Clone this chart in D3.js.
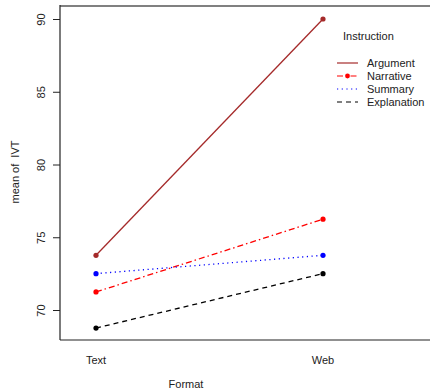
<!DOCTYPE html>
<html>
<head>
<meta charset="utf-8">
<script src="https://cdn.jsdelivr.net/npm/d3@7"></script>
<style>
  body { margin: 0; background: #fff; }
  text { font-family: "Liberation Sans", Arial, sans-serif; fill: #222; }
</style>
</head>
<body>
<svg id="chart" width="430" height="391"></svg>
<script>
// data
var formats = ["Text", "Web"];
var instructions = ["Argument", "Narrative", "Summary", "Explanation"];
var argument_vals = [73.76, 90.0];
var narrative_vals = [71.24, 76.24];
var summary_vals = [72.5, 73.76];
var explanation_vals = [68.76, 72.5];
var y_ticks = [70, 75, 80, 85, 90];

var series = [
	{ name: "Argument", values: argument_vals, color: "#a52a2a", dash: null },
	{ name: "Narrative", values: narrative_vals, color: "#ff0000", dash: "6,3,1.5,3" },
	{ name: "Summary", values: summary_vals, color: "#0000ff", dash: "1.2,3.5" },
	{ name: "Explanation", values: explanation_vals, color: "#000000", dash: "5,4" }
];

var svg = d3.select("#chart");

var x = d3.scalePoint().domain(formats).range([96, 323]);
var y = d3.scaleLinear().domain([70, 90]).range([310, 19]);

var left = 60, bottom = 340, top_y = 6, right = 430;

// frame
svg.append("line").attr("x1", left).attr("x2", right).attr("y1", top_y).attr("y2", top_y)
	.attr("stroke", "#808080").attr("stroke-width", 2);
svg.append("line").attr("x1", left).attr("x2", left).attr("y1", top_y - 1).attr("y2", bottom)
	.attr("stroke", "#222").attr("stroke-width", 1.2);
svg.append("line").attr("x1", left).attr("x2", right).attr("y1", bottom).attr("y2", bottom)
	.attr("stroke", "#222").attr("stroke-width", 1.2);

// y axis
var yaxis = svg.append("g").attr("transform", "translate(" + left + ",0)")
	.call(d3.axisLeft(y).tickValues(y_ticks).tickSize(7));
yaxis.select(".domain").remove();
yaxis.selectAll("line").attr("stroke", "#222");
yaxis.selectAll("text")
	.attr("font-size", 11)
	.attr("fill", "#222")
	.attr("text-anchor", "middle")
	.attr("x", 0)
	.attr("y", 0)
	.attr("dy", 0)
	.attr("transform", "translate(-15,0) rotate(-90)");

// x labels (no ticks)
svg.append("g").selectAll("text")
	.data(formats)
	.enter().append("text")
	.attr("x", function(d) { return x(d); })
	.attr("y", 364)
	.attr("text-anchor", "middle")
	.attr("font-size", 11)
	.text(function(d) { return d; });

// axis titles
svg.append("text")
	.attr("x", 186).attr("y", 388)
	.attr("text-anchor", "middle").attr("font-size", 11)
	.text("Format");
svg.append("text")
	.attr("transform", "translate(19,172) rotate(-90)")
	.attr("text-anchor", "middle").attr("font-size", 11)
	.attr("xml:space", "preserve")
	.text("mean of  IVT");

// lines and points
var line = d3.line()
	.x(function(d, i) { return x(formats[i]); })
	.y(function(d) { return y(d); });

var g = svg.append("g").selectAll("g")
	.data(series)
	.enter().append("g");

g.append("path")
	.attr("d", function(d) { return line(d.values); })
	.attr("fill", "none")
	.attr("stroke", function(d) { return d.color; })
	.attr("stroke-width", 1.3)
	.attr("stroke-dasharray", function(d) { return d.dash; });

g.selectAll("circle")
	.data(function(d) { return d.values.map(function(v, i) { return { v: v, i: i, color: d.color }; }); })
	.enter().append("circle")
	.attr("cx", function(d) { return x(formats[d.i]); })
	.attr("cy", function(d) { return y(d.v); })
	.attr("r", 2.6)
	.attr("fill", function(d) { return d.color; });

// legend
var legend = svg.append("g");
legend.append("text")
	.attr("x", 343).attr("y", 40)
	.attr("font-size", 11)
	.text("Instruction");

var item = legend.selectAll("g.item")
	.data(series)
	.enter().append("g")
	.attr("class", "item")
	.attr("transform", function(d, i) { return "translate(0," + (63 + i * 13) + ")"; });

item.append("line")
	.attr("x1", 337).attr("x2", 358)
	.attr("y1", 0).attr("y2", 0)
	.attr("stroke", function(d) { return d.color; })
	.attr("stroke-width", 1.2)
	.attr("stroke-dasharray", function(d) { return d.dash; });

item.filter(function(d) { return d.name == "Narrative"; })
	.append("circle")
	.attr("cx", 347.5).attr("cy", 0).attr("r", 2.4)
	.attr("fill", function(d) { return d.color; });

item.append("text")
	.attr("x", 367).attr("y", 0)
	.attr("dy", "0.35em")
	.attr("font-size", 11)
	.text(function(d) { return d.name; });
</script>
</body>
</html>
